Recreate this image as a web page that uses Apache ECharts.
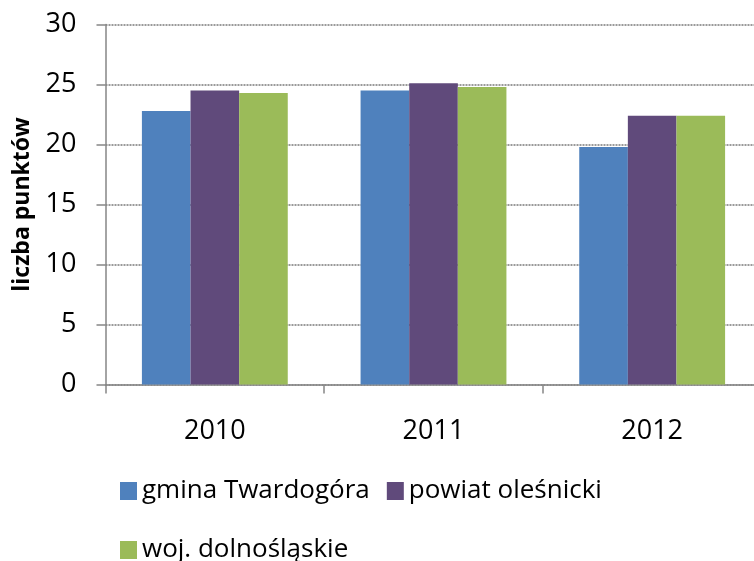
<!DOCTYPE html>
<html>
<head>
<meta charset="utf-8">
<script src="https://cdn.jsdelivr.net/npm/echarts@6/dist/echarts.min.js"></script>
<style>
html,body{margin:0;padding:0;background:#fff;overflow:hidden;width:754px;height:561px;}
#chart{width:780px;height:561px;}
</style>
</head>
<body>
<div id="chart"></div>
<script>
var categories = ['2010', '2011', '2012'];
var seriesNames = ['gmina Twardogóra', 'powiat oleśnicki', 'woj. dolnośląskie'];
var gminaValues = [22.8, 24.5, 19.8];
var powiatValues = [24.5, 25.1, 22.4];
var wojValues = [24.3, 24.8, 22.4];
var yTicks = [0, 5, 10, 15, 20, 25, 30];
var yAxisTitle = 'liczba punktów';

var colors = ['#4F81BD', '#604A7B', '#9BBB59'];
var fontFamily = '"Open Sans", "Noto Sans", sans-serif';
var values = [gminaValues, powiatValues, wojValues];

var chart = echarts.init(document.getElementById('chart'), null, {renderer: 'canvas'});
var legendText = {fontFamily: fontFamily, fontSize: 26, color: '#000'};
var option = {
  animation: false,
  backgroundColor: '#fff',
  grid: {left: 105.5, top: 24.5, bottom: 176.5, right: 18.5, containLabel: false},
  legend: [
    {data: [seriesNames[0], seriesNames[1]], left: 120, top: 478, orient: 'horizontal',
     icon: 'rect', itemWidth: 17, itemHeight: 18, itemGap: 17, textStyle: legendText, padding: 0},
    {data: [seriesNames[2]], left: 120, top: 537, orient: 'horizontal',
     icon: 'rect', itemWidth: 17, itemHeight: 18, itemGap: 17, textStyle: legendText, padding: 0}
  ],
  xAxis: {
    type: 'category',
    data: categories,
    boundaryGap: true,
    axisLine: {show: true, lineStyle: {color: '#868686', width: 1.5}},
    axisTick: {show: true, alignWithLabel: false, length: 9, inside: false, lineStyle: {color: '#868686', width: 1.5}},
    axisLabel: {fontFamily: fontFamily, fontSize: 27, color: '#000', margin: 33, lineHeight: 27, interval: 0}
  },
  yAxis: {
    type: 'value',
    min: yTicks[0],
    max: yTicks[yTicks.length - 1],
    interval: 5,
    name: yAxisTitle,
    nameLocation: 'middle',
    nameGap: 72,
    nameRotate: 90,
    nameTextStyle: {fontFamily: fontFamily, fontSize: 23, fontWeight: 'bold', color: '#000'},
    axisLine: {show: true, lineStyle: {color: '#868686', width: 1.5}},
    axisTick: {show: true, length: 9, inside: false, lineStyle: {color: '#868686', width: 1.5}},
    axisLabel: {fontFamily: fontFamily, fontSize: 27, color: '#000', margin: 29},
    splitLine: {show: true, lineStyle: {color: '#9a9a9a', width: 2, type: [2, 1]}}
  },
  series: seriesNames.map(function (name, i) {
    return {
      name: name,
      type: 'bar',
      data: values[i],
      barGap: '0%',
      barCategoryGap: '33.3%',
      itemStyle: {color: colors[i]}
    };
  })
};
chart.setOption(option);
</script>
</body>
</html>
